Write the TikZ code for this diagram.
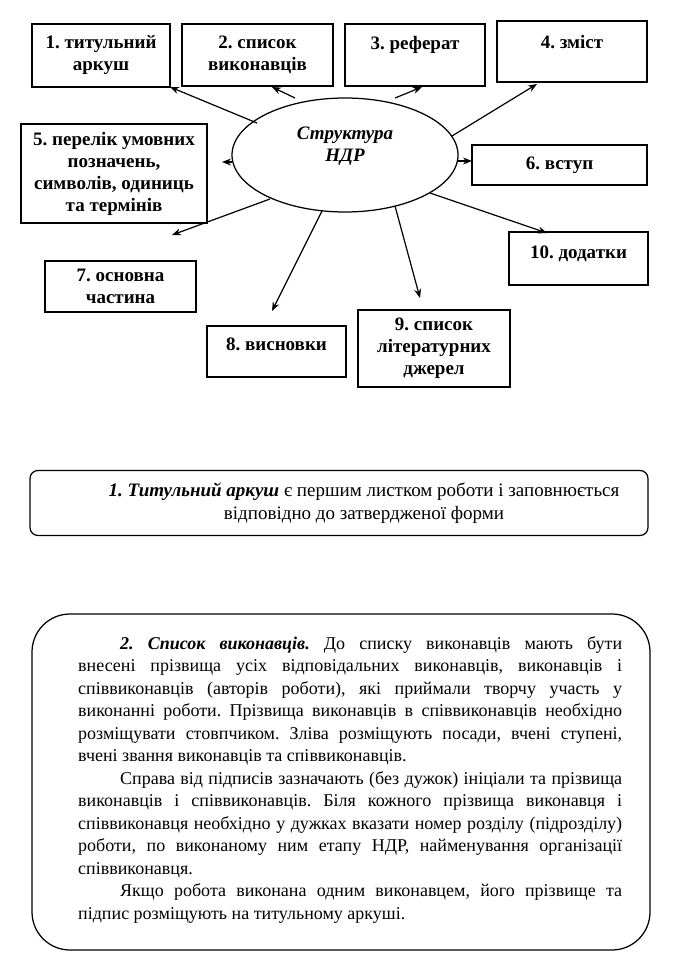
\documentclass[tikz,border=0pt]{standalone}
\usepackage{fontspec}
\setmainfont{Liberation Serif}
\usetikzlibrary{shapes.geometric,arrows.meta}
\frenchspacing
\begin{document}
\begin{tikzpicture}[x=1pt,y=-1pt,
  box/.style={draw, line width=1.25pt, inner sep=2pt, align=center,
    font=\fontsize{19}{22}\selectfont\bfseries},
  arr/.style={-{Stealth[length=9pt,width=7pt]}, line width=1.2pt},
  frame/.style={draw, line width=1.25pt}]
\useasboundingbox (0,0) rectangle (679,958);

% boxes
\node[box, minimum width=138pt, minimum height=63pt] (b1) at (101,55.5) {1. титульний\\аркуш};
\node[box, minimum width=151pt, minimum height=62pt] (b2) at (257.5,55) {2. список\\виконавців};
\node[box, minimum width=140pt, minimum height=62pt, text depth=24pt] (b3) at (415,55) {3. реферат};
\node[box, minimum width=150pt, minimum height=61pt, text depth=20pt] (b4) at (572,51.5) {4. зміст};
\node[box, minimum width=186pt, minimum height=99pt] (b5) at (114,173.5) {5. перелік умовних\\позначень,\\символів, одиниць\\та термінів};
\node[box, minimum width=175pt, minimum height=40pt] (b6) at (559.5,165) {6. вступ};
\node[box, minimum width=151pt, minimum height=51pt] (b7) at (120.5,286.5) {7. основна\\частина};
\node[box, minimum width=139pt, minimum height=51pt, text depth=14pt] (b8) at (276.5,351.5) {8. висновки};
\node[box, minimum width=152pt, minimum height=77pt] (b9) at (434,348.5) {9. список\\літературних\\джерел};
\node[box, minimum width=139pt, minimum height=53pt, text depth=12pt] (b10) at (578.5,258.5) {10. додатки};

% ellipse
\node[draw, ellipse, line width=1.25pt, minimum width=226pt, minimum height=114pt,
  align=center, font=\fontsize{19}{22}\selectfont\bfseries\itshape] (ell) at (345,155) {Структура\\НДР\\\mbox{}};

% arrow coordinates
\coordinate (s1) at (257,123); \coordinate (e1) at (170,87);
\coordinate (s2) at (295,98);  \coordinate (e2) at (272,87);
\coordinate (s3) at (395,98);  \coordinate (e3) at (422,87);
\coordinate (s4) at (452,136); \coordinate (e4) at (537,84);
\coordinate (s5) at (232,162); \coordinate (e5) at (222,162);
\coordinate (s6) at (458,161); \coordinate (e6) at (472,161);
\coordinate (s7) at (270,199); \coordinate (e7) at (172,235);
\coordinate (s8) at (322,211); \coordinate (e8) at (272,311);
\coordinate (s9) at (395,206); \coordinate (e9) at (420,298);
\coordinate (s10) at (430,193); \coordinate (e10) at (547,233);

\foreach \i in {1,...,10} {\draw[arr] (s\i) -- (e\i);}

% title box
\node[frame, rounded corners=8pt, minimum width=618pt, minimum height=65pt] (tb) at (339,503) {};
\node[align=center, inner sep=0pt, font=\fontsize{19}{23}\selectfont] (tt) at (364,503)
  {\textbf{\textit{1. Титульний аркуш}} є першим листком роботи і заповнюється\\відповідно до затвердженої форми};

% big box
\node[frame, rounded corners=38pt, minimum width=618pt, minimum height=336pt] (bb) at (341,782) {};
\node[anchor=base west, inner sep=0pt, font=\fontsize{18}{22.5}\selectfont] (bt) at (78,649)
  {\parbox[t]{544pt}{\setlength{\parindent}{0pt}%
  \hspace*{42pt}\textbf{\textit{2. Список виконавців.}} До списку виконавців мають бути\linebreak
  внесені прізвища усіх відповідальних виконавців, виконавців і\linebreak
  співвиконавців (авторів роботи), які приймали творчу участь у\linebreak
  виконанні роботи. Прізвища виконавців в співвиконавців необхідно\linebreak
  розміщувати стовпчиком. Зліва розміщують посади, вчені ступені,\linebreak
  вчені звання виконавців та співвиконавців.\par
  \hspace*{42pt}Справа від підписів зазначають (без дужок) ініціали та прізвища\linebreak
  виконавців і співвиконавців. Біля кожного прізвища виконавця і\linebreak
  співвиконавця необхідно у дужках вказати номер розділу (підрозділу)\linebreak
  роботи, по виконаному ним етапу НДР, найменування організації\linebreak
  співвиконавця.\par
  \hspace*{42pt}Якщо робота виконана одним виконавцем, його прізвище та\linebreak
  підпис розміщують на титульному аркуші.}};
\end{tikzpicture}
\end{document}
